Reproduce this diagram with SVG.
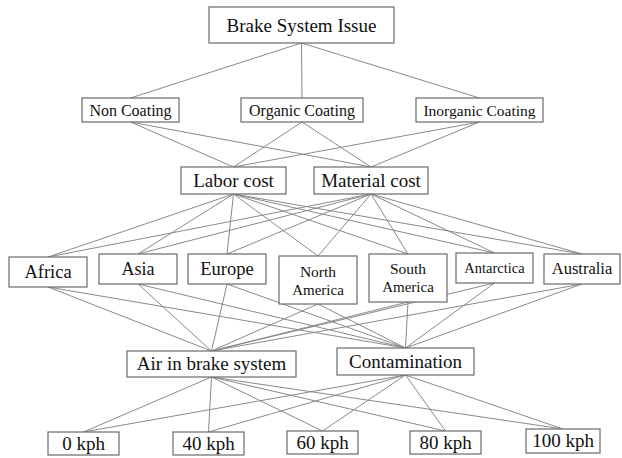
<svg xmlns="http://www.w3.org/2000/svg" width="622" height="458" viewBox="0 0 622 458">
<style>
rect{fill:#fff;stroke:#6a6a6a;stroke-width:1.2}
text{fill:#111;text-anchor:middle}
#edges line{stroke:#8a8a8a;stroke-width:1}
</style>
<rect x="0" y="0" width="622" height="458" style="fill:#fff;stroke:none"/>
<g id="edges">
<line x1="301.5" y1="43" x2="130.5" y2="98"/>
<line x1="301.5" y1="43" x2="302" y2="98"/>
<line x1="301.5" y1="43" x2="479.5" y2="98"/>
<line x1="130.5" y1="122" x2="233.5" y2="167"/>
<line x1="130.5" y1="122" x2="371" y2="167"/>
<line x1="302" y1="122" x2="233.5" y2="167"/>
<line x1="302" y1="122" x2="371" y2="167"/>
<line x1="479.5" y1="122" x2="233.5" y2="167"/>
<line x1="479.5" y1="122" x2="371" y2="167"/>
<line x1="233.5" y1="194" x2="48" y2="257"/>
<line x1="233.5" y1="194" x2="138" y2="254"/>
<line x1="233.5" y1="194" x2="227" y2="254"/>
<line x1="233.5" y1="194" x2="318" y2="256"/>
<line x1="233.5" y1="194" x2="408" y2="254"/>
<line x1="233.5" y1="194" x2="494.5" y2="253"/>
<line x1="233.5" y1="194" x2="582" y2="254"/>
<line x1="371" y1="194" x2="48" y2="257"/>
<line x1="371" y1="194" x2="138" y2="254"/>
<line x1="371" y1="194" x2="227" y2="254"/>
<line x1="371" y1="194" x2="318" y2="256"/>
<line x1="371" y1="194" x2="408" y2="254"/>
<line x1="371" y1="194" x2="494.5" y2="253"/>
<line x1="371" y1="194" x2="582" y2="254"/>
<line x1="48" y1="287" x2="211.5" y2="351"/>
<line x1="48" y1="287" x2="405.5" y2="348"/>
<line x1="138" y1="284" x2="211.5" y2="351"/>
<line x1="138" y1="284" x2="405.5" y2="348"/>
<line x1="227" y1="284" x2="211.5" y2="351"/>
<line x1="227" y1="284" x2="405.5" y2="348"/>
<line x1="318" y1="304" x2="211.5" y2="351"/>
<line x1="318" y1="304" x2="405.5" y2="348"/>
<line x1="408" y1="302" x2="211.5" y2="351"/>
<line x1="408" y1="302" x2="405.5" y2="348"/>
<line x1="494.5" y1="283" x2="211.5" y2="351"/>
<line x1="494.5" y1="283" x2="405.5" y2="348"/>
<line x1="582" y1="284" x2="211.5" y2="351"/>
<line x1="582" y1="284" x2="405.5" y2="348"/>
<line x1="211.5" y1="377" x2="83.5" y2="432"/>
<line x1="211.5" y1="377" x2="208.5" y2="432"/>
<line x1="211.5" y1="377" x2="322.5" y2="431"/>
<line x1="211.5" y1="377" x2="445.5" y2="431"/>
<line x1="211.5" y1="377" x2="563" y2="429"/>
<line x1="405.5" y1="375" x2="83.5" y2="432"/>
<line x1="405.5" y1="375" x2="208.5" y2="432"/>
<line x1="405.5" y1="375" x2="322.5" y2="431"/>
<line x1="405.5" y1="375" x2="445.5" y2="431"/>
<line x1="405.5" y1="375" x2="563" y2="429"/>
</g>
<g font-family="Liberation Serif, DejaVu Serif, serif">
<g id="brake"><rect x="209" y="7" width="185" height="36"/><text x="301.5" y="31.5" font-size="19">Brake System  Issue</text></g>
<g id="non-coating"><rect x="82" y="98" width="97" height="24"/><text x="130.5" y="115.5" font-size="16">Non Coating</text></g>
<g id="organic-coating"><rect x="241" y="98" width="122" height="24"/><text x="302" y="115.5" font-size="16">Organic Coating</text></g>
<g id="inorganic-coating"><rect x="416" y="98" width="127" height="24"/><text x="479.5" y="115.5" font-size="15.5">Inorganic Coating</text></g>
<g id="labor-cost"><rect x="181" y="167" width="105" height="27"/><text x="233.5" y="187" font-size="19">Labor cost</text></g>
<g id="material-cost"><rect x="314" y="167" width="114" height="27"/><text x="371" y="187" font-size="19">Material cost</text></g>
<g id="africa"><rect x="9" y="257" width="78" height="30"/><text x="48" y="278" font-size="18.5">Africa</text></g>
<g id="asia"><rect x="99" y="254" width="78" height="30"/><text x="138" y="275" font-size="18">Asia</text></g>
<g id="europe"><rect x="188" y="254" width="78" height="30"/><text x="227" y="275" font-size="18.5">Europe</text></g>
<g id="north-america"><rect x="279" y="256" width="78" height="48"/><text x="318" y="277" font-size="15.5">North</text><text x="318" y="295" font-size="15">America</text></g>
<g id="south-america"><rect x="369" y="254" width="78" height="48"/><text x="408" y="274" font-size="15.5">South</text><text x="408" y="292" font-size="15">America</text></g>
<g id="antarctica"><rect x="456" y="253" width="77" height="30"/><text x="494.5" y="273" font-size="14.5">Antarctica</text></g>
<g id="australia"><rect x="544" y="254" width="76" height="30"/><text x="582" y="274" font-size="16.5">Australia</text></g>
<g id="air"><rect x="127" y="351" width="169" height="26"/><text x="211.5" y="370" font-size="19">Air in brake system</text></g>
<g id="contamination"><rect x="337" y="348" width="137" height="27"/><text x="405.5" y="368" font-size="19">Contamination</text></g>
<g id="kph0"><rect x="48" y="432" width="71" height="23"/><text x="83.5" y="450" font-size="19">0 kph</text></g>
<g id="kph40"><rect x="173" y="432" width="71" height="23"/><text x="208.5" y="450" font-size="19">40 kph</text></g>
<g id="kph60"><rect x="287" y="431" width="71" height="23"/><text x="322.5" y="449" font-size="19">60 kph</text></g>
<g id="kph80"><rect x="410" y="431" width="71" height="23"/><text x="445.5" y="449" font-size="19">80 kph</text></g>
<g id="kph100"><rect x="526" y="429" width="74" height="24"/><text x="563" y="447" font-size="19">100 kph</text></g>
</g>
</svg>
